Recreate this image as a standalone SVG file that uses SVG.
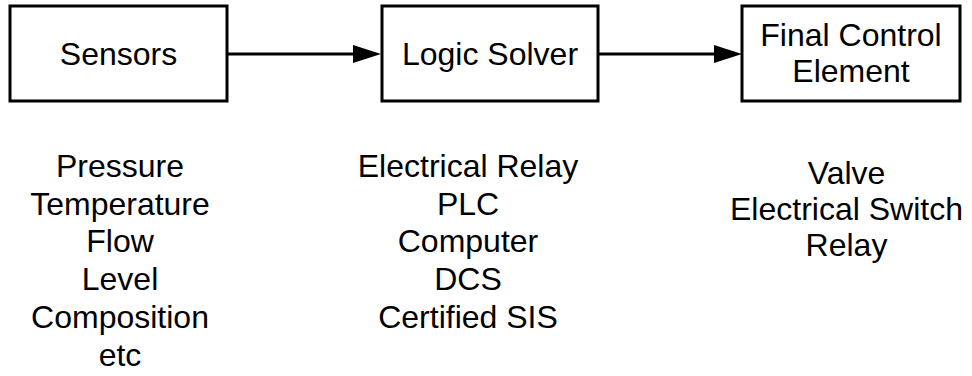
<svg xmlns="http://www.w3.org/2000/svg" width="972" height="376" viewBox="0 0 972 376">
<style>
  .box { fill: #ffffff; stroke: #000000; stroke-width: 3; }
  .lbl { font-family: "Liberation Sans", Arial, sans-serif; font-size: 32px; fill: #000000; text-anchor: middle; }
  .conn { stroke: #000000; stroke-width: 3; fill: none; }
</style>
<defs>
  <marker id="arrow" markerUnits="userSpaceOnUse" markerWidth="30" markerHeight="20" refX="2" refY="9" orient="auto">
    <path d="M0,0 L28,9 L0,18 z" fill="#000000"/>
  </marker>
</defs>
<rect width="972" height="376" fill="#ffffff"/>
<g id="connectors">
  <line class="conn" x1="227" y1="54" x2="355" y2="54" marker-end="url(#arrow)"/>
  <line class="conn" x1="598" y1="54" x2="716" y2="54" marker-end="url(#arrow)"/>
</g>
<g id="sensors">
  <rect class="box" x="10" y="6" width="217" height="95"/>
  <text class="lbl" x="118.5" y="65">Sensors</text>
</g>
<g id="logic-solver">
  <rect class="box" x="382" y="6" width="216" height="95"/>
  <text class="lbl" x="490" y="65">Logic Solver</text>
</g>
<g id="final-control-element">
  <rect class="box" x="742" y="6" width="218" height="95"/>
  <text class="lbl" x="851" y="46">Final Control</text>
  <text class="lbl" x="851" y="82">Element</text>
</g>
<g id="sensor-list">
  <text class="lbl" x="120" y="177">Pressure</text>
  <text class="lbl" x="120" y="214.5">Temperature</text>
  <text class="lbl" x="120" y="252">Flow</text>
  <text class="lbl" x="120" y="290">Level</text>
  <text class="lbl" x="120" y="328">Composition</text>
  <text class="lbl" x="120" y="366">etc</text>
</g>
<g id="logic-list">
  <text class="lbl" x="468" y="177">Electrical Relay</text>
  <text class="lbl" x="468" y="214.5">PLC</text>
  <text class="lbl" x="468" y="252">Computer</text>
  <text class="lbl" x="468" y="290">DCS</text>
  <text class="lbl" x="468" y="328">Certified SIS</text>
</g>
<g id="fce-list">
  <text class="lbl" x="846.5" y="184">Valve</text>
  <text class="lbl" x="846.5" y="220">Electrical Switch</text>
  <text class="lbl" x="846.5" y="256">Relay</text>
</g>
</svg>
